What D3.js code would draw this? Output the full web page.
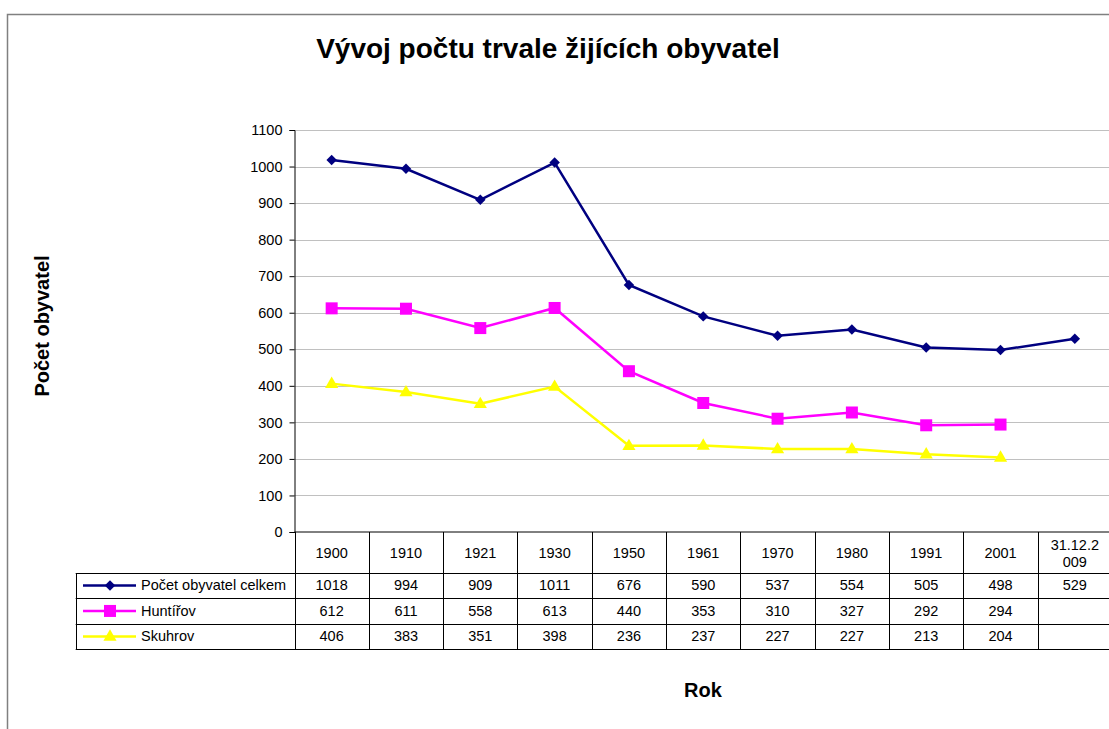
<!DOCTYPE html>
<html>
<head>
<meta charset="utf-8">
<script src="https://cdn.jsdelivr.net/npm/d3@7"></script>
<style>
  body { margin: 0; background: #fff; }
  text { font-family: "Liberation Sans", Arial, sans-serif; }
</style>
</head>
<body>
<div id="chart"></div>
<script>
var roky = ["1900", "1910", "1921", "1930", "1950", "1961", "1970", "1980", "1991", "2001", "31.12.2009"];
var celkem = [1018, 994, 909, 1011, 676, 590, 537, 554, 505, 498, 529];
var huntirov = [612, 611, 558, 613, 440, 353, 310, 327, 292, 294, null];
var skuhrov = [406, 383, 351, 398, 236, 237, 227, 227, 213, 204, null];
var yTicks = [0, 100, 200, 300, 400, 500, 600, 700, 800, 900, 1000, 1100];

var series = [
  {name: "Počet obyvatel celkem", values: celkem, color: "#000080", marker: "diamond"},
  {name: "Huntířov", values: huntirov, color: "#ff00ff", marker: "square"},
  {name: "Skuhrov", values: skuhrov, color: "#ffff00", marker: "triangle"}
];

var W = 1109, H = 729;
var plot = {left: 294.5, right: 1112, top: 130, bottom: 532};
var fs = 14.5;

var svg = d3.select("#chart").append("svg")
    .attr("width", W)
    .attr("height", H);

// outer chart border
svg.append("rect")
    .attr("x", 7.5).attr("y", 14.5)
    .attr("width", W + 20).attr("height", H + 20)
    .attr("fill", "none")
    .attr("stroke", "#808080")
    .attr("stroke-width", 1.5);

var x = d3.scaleBand()
    .domain(roky)
    .range([plot.left, plot.right]);

var y = d3.scaleLinear()
    .domain([0, 1100])
    .range([plot.bottom, plot.top]);

// gridlines
svg.append("g")
  .selectAll("line")
  .data(yTicks.filter(d => d > 0))
  .enter().append("line")
    .attr("x1", plot.left).attr("x2", W)
    .attr("y1", d => Math.round(y(d)) + 0.5)
    .attr("y2", d => Math.round(y(d)) + 0.5)
    .attr("stroke", "#c0c0c0")
    .attr("stroke-width", 1);

// y axis
var yAxis = svg.append("g")
    .attr("transform", "translate(" + plot.left + ",0)")
    .call(d3.axisLeft(y).tickValues(yTicks).tickFormat(d3.format("d")).tickSize(5).tickPadding(7));
yAxis.select(".domain").attr("stroke", "#000");
yAxis.selectAll("text").attr("font-size", fs).attr("fill", "#000")
    .style("font-family", "'Liberation Sans', Arial, sans-serif");

// data table
var rowTop = plot.bottom, headerBottom = 572.7;
var rowH = 25.5;
var legendLeft = 75.7;
var table = svg.append("g");

// horizontal lines
table.append("line")
    .attr("x1", plot.left).attr("x2", W)
    .attr("y1", rowTop).attr("y2", rowTop)
    .attr("stroke", "#000");
[0, 1, 2, 3].forEach(function(i) {
  var yy = Math.round(headerBottom + i * rowH) + 0.5;
  table.append("line")
      .attr("x1", legendLeft).attr("x2", W)
      .attr("y1", yy).attr("y2", yy)
      .attr("stroke", "#000");
});
var tableBottom = Math.round(headerBottom + 3 * rowH) + 0.5;

// vertical lines
var bounds = roky.map(d => x(d)).concat([plot.right]);
bounds.forEach(function(bx) {
  table.append("line")
      .attr("x1", Math.round(bx) + 0.5).attr("x2", Math.round(bx) + 0.5)
      .attr("y1", rowTop).attr("y2", tableBottom)
      .attr("stroke", "#000");
});
table.append("line")
    .attr("x1", Math.round(legendLeft) + 0.5).attr("x2", Math.round(legendLeft) + 0.5)
    .attr("y1", Math.round(headerBottom) + 0.5).attr("y2", tableBottom)
    .attr("stroke", "#000");

// year labels
roky.forEach(function(r) {
  var cx = x(r) + x.bandwidth() / 2;
  if (r.length > 6) {
    var t = table.append("text")
        .attr("x", cx).attr("text-anchor", "middle")
        .attr("font-size", fs);
    t.append("tspan").attr("x", cx).attr("y", 550).text(r.slice(0, 7));
    t.append("tspan").attr("x", cx).attr("y", 567).text(r.slice(7));
  } else {
    table.append("text")
        .attr("x", cx).attr("y", 558)
        .attr("text-anchor", "middle")
        .attr("font-size", fs)
        .text(r);
  }
});

// value rows
function marker(g, type, cx, cy, color) {
  if (type === "diamond") {
    g.append("path")
        .attr("d", d3.symbol().type(d3.symbolDiamond2).size(70)())
        .attr("transform", "translate(" + cx + "," + cy + ")")
        .attr("fill", color);
  } else if (type === "square") {
    g.append("rect")
        .attr("x", cx - 6).attr("y", cy - 6)
        .attr("width", 12).attr("height", 12)
        .attr("fill", color);
  } else {
    g.append("path")
        .attr("d", d3.symbol().type(d3.symbolTriangle).size(75)())
        .attr("transform", "translate(" + cx + "," + (cy + 0.5) + ")")
        .attr("fill", color);
  }
}

series.forEach(function(s, i) {
  var cy = headerBottom + i * rowH + rowH / 2;
  table.append("line")
      .attr("x1", 83).attr("x2", 136)
      .attr("y1", cy).attr("y2", cy)
      .attr("stroke", s.color).attr("stroke-width", 2.5);
  marker(table, s.marker, 110, cy, s.color);
  table.append("text")
      .attr("x", 141).attr("y", cy + 5)
      .attr("font-size", fs)
      .text(s.name);
  s.values.forEach(function(v, j) {
    if (v == null) return;
    table.append("text")
        .attr("x", x(roky[j]) + x.bandwidth() / 2).attr("y", cy + 5)
        .attr("text-anchor", "middle")
        .attr("font-size", fs)
        .text(v);
  });
});

// lines and markers
var line = d3.line()
    .defined(d => d.v != null)
    .x(d => x(d.r) + x.bandwidth() / 2)
    .y(d => y(d.v));

series.slice().reverse().forEach(function(s) {
  var pts = s.values.map((v, j) => ({r: roky[j], v: v}));
  svg.append("path")
      .datum(pts)
      .attr("d", line)
      .attr("fill", "none")
      .attr("stroke", s.color)
      .attr("stroke-width", 2.5);
  var mg = svg.append("g");
  pts.filter(p => p.v != null).forEach(function(p) {
    marker(mg, s.marker, x(p.r) + x.bandwidth() / 2, y(p.v), s.color);
  });
});

// titles
svg.append("text")
    .attr("x", 548).attr("y", 58)
    .attr("text-anchor", "middle")
    .attr("font-size", 28).attr("font-weight", "bold")
    .text("Vývoj počtu trvale žijících obyvatel");

svg.append("text")
    .attr("transform", "translate(49,326) rotate(-90)")
    .attr("text-anchor", "middle")
    .attr("font-size", 20).attr("font-weight", "bold")
    .text("Počet obyvatel");

svg.append("text")
    .attr("x", 703).attr("y", 697)
    .attr("text-anchor", "middle")
    .attr("font-size", 20).attr("font-weight", "bold")
    .text("Rok");
</script>
</body>
</html>
